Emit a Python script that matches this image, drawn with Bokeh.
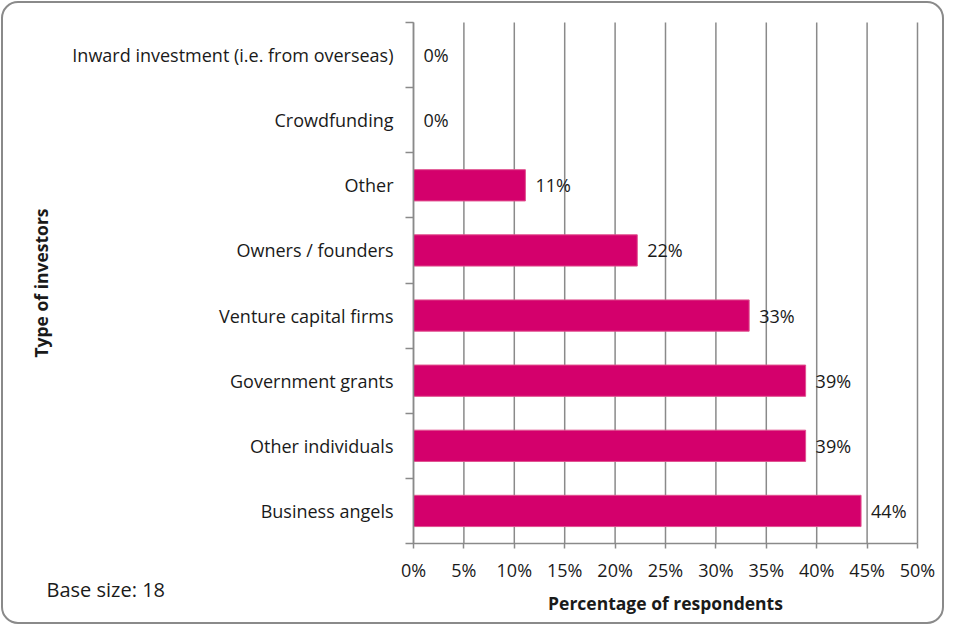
from bokeh.plotting import figure
from bokeh.models import ColumnDataSource, FixedTicker, Range1d, LabelSet, Label, BoxAnnotation
from bokeh.core.properties import value
from bokeh.embed import file_html
from bokeh.resources import INLINE

categories = ["Business angels", "Other individuals", "Government grants", "Venture capital firms",
              "Owners / founders", "Other", "Crowdfunding", "Inward investment (i.e. from overseas)"]
values = [44.4, 38.9, 38.9, 33.3, 22.2, 11.1, 0.0, 0.0]
value_labels = ["44%", "39%", "39%", "33%", "22%", "11%", "0%", "0%"]
x_ticks = [0, 5, 10, 15, 20, 25, 30, 35, 40, 45, 50]
base_note = "Base size: 18"

FONT = "Open Sans"
TXT = "#1a1a1a"
GRID = "#8a8a8a"
FS = "18px"
TFS = "17.5px"

W, H = 944, 624
FL, FT, FR, FB = 413, 22, 917, 543  # where the value area sits on the canvas (pixels)
XMAX = x_ticks[-1]
NCAT = len(categories)

# the frame fills the whole canvas; ranges chosen so the value area lands at FL..FR, FT..FB
xppu = (FR - FL) / XMAX
yppu = (FB - FT) / NCAT
x_range = Range1d(-FL / xppu, (W - FL) / xppu)
y_range = Range1d(-(H - FB) / yppu, NCAT + FT / yppu)

ypos = [i + 0.5 for i in range(NCAT)]
src = ColumnDataSource(dict(y=ypos, v=values, lab=value_labels, cat=categories))
gsrc = ColumnDataSource(dict(x=x_ticks, y0=[0] * len(x_ticks), y1=[NCAT] * len(x_ticks)))

p = figure(width=W, height=H, output_backend="svg", toolbar_location=None,
           x_range=x_range, y_range=y_range, min_border=0)
p.outline_line_color = None
p.background_fill_color = "white"
p.border_fill_color = "white"
p.xgrid.grid_line_color = None
p.ygrid.grid_line_color = None

# vertical gridlines
p.segment(x0="x", x1="x", y0="y0", y1="y1", source=gsrc, line_color=GRID, line_width=1.5)

p.hbar(y="y", right="v", left=0, height=0.48, source=src,
       fill_color="#D4006C", line_color="#E0528F", line_width=1)

p.add_layout(LabelSet(x="v", y="y", text="lab", source=src, x_offset=10, y_offset=0,
                      text_baseline="middle", text_align="left", text_font_size=FS,
                      text_color=TXT, text_font=value(FONT)))

# x axis
xa = p.xaxis[0]
xa.fixed_location = 0
xa.bounds = (0, XMAX)
xa.ticker = FixedTicker(ticks=x_ticks)
xa.major_label_overrides = {t: f"{t}%" for t in x_ticks}
xa.major_label_text_font = FONT
xa.major_label_text_font_size = FS
xa.major_label_text_color = TXT
xa.major_label_standoff = 9
xa.major_tick_out = 5
xa.major_tick_in = 0
xa.minor_tick_line_color = None
xa.major_tick_line_color = GRID
xa.axis_line_color = GRID
xa.axis_line_width = 1.5
xa.major_tick_line_width = 1.5
xa.axis_label = "Percentage of respondents"
xa.axis_label_text_font = FONT
xa.axis_label_text_font_style = "bold"
xa.axis_label_text_font_size = TFS
xa.axis_label_text_color = TXT
xa.axis_label_standoff = 6

# y axis
ya = p.yaxis[0]
ya.fixed_location = 0
ya.bounds = (0, NCAT)
ya.ticker = FixedTicker(ticks=ypos, minor_ticks=list(range(NCAT + 1)))
ya.major_label_overrides = {y: c for y, c in zip(ypos, categories)}
ya.major_tick_line_color = None
ya.major_tick_out = 0
ya.minor_tick_out = 8
ya.minor_tick_in = 0
ya.minor_tick_line_color = GRID
ya.minor_tick_line_width = 1.5
ya.axis_line_color = GRID
ya.axis_line_width = 1.5
ya.major_label_standoff = 12
ya.major_label_text_font = FONT
ya.major_label_text_font_size = FS
ya.major_label_text_color = TXT
ya.axis_label = "Type of investors"
ya.axis_label_text_font = FONT
ya.axis_label_text_font_style = "bold"
ya.axis_label_text_font_size = TFS
ya.axis_label_text_color = TXT
ya.axis_label_standoff = 16

p.add_layout(Label(x=46, y=589, x_units="canvas", y_units="canvas", text=base_note,
                   text_font=FONT, text_font_size="20px", text_color=TXT,
                   text_baseline="middle", text_align="left"))

p.add_layout(BoxAnnotation(left=1.5, right=W - 1.5, top=1.5, bottom=H - 1.5,
                           left_units="canvas", right_units="canvas",
                           top_units="canvas", bottom_units="canvas",
                           fill_color=None, fill_alpha=0, line_color="#8a8a8a", line_alpha=1.0,
                           line_width=2, border_radius=16, level="overlay"))

open("out.html", "w").write(file_html(p, INLINE))
